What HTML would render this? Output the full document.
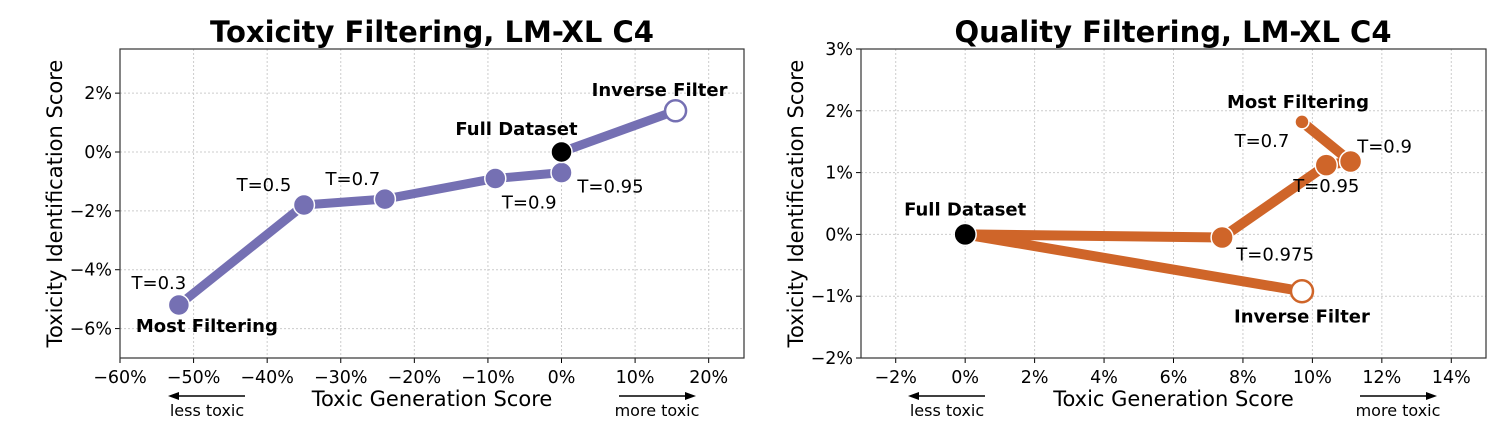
<!DOCTYPE html>
<html><head><meta charset="utf-8"><style>
body{margin:0;background:#fff}
svg{display:block;font-family:"DejaVu Sans","Liberation Sans",sans-serif}
</style></head><body>
<svg id="s" width="1512" height="442">
<text x="432" y="42" text-anchor="middle" font-size="29" font-weight="bold">Toxicity Filtering, LM-XL C4</text>
<text x="1173" y="42" text-anchor="middle" font-size="29" font-weight="bold">Quality Filtering, LM-XL C4</text>
</svg>
<script>
// Left chart data
const leftX=[-52,-35,-24,-9,0,0,15.5];
const leftY=[-5.2,-1.8,-1.6,-0.9,-0.7,0,1.4];
const leftLabels=["T=0.3","T=0.5","T=0.7","T=0.9","T=0.95","Full Dataset","Inverse Filter"];
const leftXTicks=[-60,-50,-40,-30,-20,-10,0,10,20];
const leftYTicks=[-6,-4,-2,0,2];
// Right chart data
const rightX=[9.7,11.1,10.4,7.4,0,9.7];
const rightY=[1.82,1.18,1.12,-0.05,0,-0.92];
const rightLabels=["T=0.7","T=0.9","T=0.95","T=0.975","Full Dataset","Inverse Filter"];
const rightXTicks=[-2,0,2,4,6,8,10,12,14];
const rightYTicks=[-2,-1,0,1,2,3];

const NS="http://www.w3.org/2000/svg";
const svg=document.getElementById('s');
function mk(tag,attrs,parent,txt){const e=document.createElementNS(NS,tag);for(const k in attrs)e.setAttribute(k,attrs[k]);if(txt!==undefined)e.textContent=txt;(parent||svg).appendChild(e);return e;}
function fmt(v){return (v<0?"\u2212":"")+Math.abs(v)+"%";}

function axes(c){
  const g=mk('g',{});
  
  
  c.xt.forEach(v=>{const x=c.sx(v);
    mk('line',{x1:x,x2:x,y1:c.top,y2:c.bot,stroke:'#ccc','stroke-dasharray':'2,2','stroke-width':1},g);
    mk('line',{x1:x,x2:x,y1:c.bot,y2:c.bot+5,stroke:'#000'},g);
    const t=mk('text',{x:x,y:c.bot+25,'text-anchor':'middle','font-size':17.5},g,fmt(v));
    
    
  });
  c.yt.forEach(v=>{const y=c.sy(v);
    mk('line',{x1:c.left,x2:c.right,y1:y,y2:y,stroke:'#ccc','stroke-dasharray':'2,2','stroke-width':1},g);
    mk('line',{x1:c.left-5,x2:c.left,y1:y,y2:y,stroke:'#000'},g);
    const t=mk('text',{x:c.left-8,y:y+6,'text-anchor':'end','font-size':17.5},g,fmt(v));
    
    
  });
  mk('rect',{x:c.left,y:c.top,width:c.right-c.left,height:c.bot-c.top,fill:'none',stroke:'#333','stroke-width':1.2},g);
  const xl=mk('text',{x:(c.left+c.right)/2+c.xlOff,y:406,'text-anchor':'middle','font-size':21},g,'Toxic Generation Score');
  
  
  const yl=mk('text',{x:0,y:0,'text-anchor':'middle','font-size':21,transform:`translate(${c.ylx},${(c.top+c.bot)/2}) rotate(-90)`},g,'Toxicity Identification Score');
  
  
  const ay=396;
  const a1=mk('g',{},g);
  
  
  mk('line',{x1:c.lessX+38,x2:c.lessX-30,y1:ay,y2:ay,stroke:'#000','stroke-width':1.5},a1);
  mk('polygon',{points:`${c.lessX-39},${ay} ${c.lessX-28},${ay-4} ${c.lessX-28},${ay+4}`,fill:'#000'},a1);
  mk('text',{x:c.lessX,y:416,'text-anchor':'middle','font-size':16},a1,'less toxic');
  const a2=mk('g',{},g);
  
  
  mk('line',{x1:c.moreX-38,x2:c.moreX+30,y1:ay,y2:ay,stroke:'#000','stroke-width':1.5},a2);
  mk('polygon',{points:`${c.moreX+39},${ay} ${c.moreX+28},${ay-4} ${c.moreX+28},${ay+4}`,fill:'#000'},a2);
  mk('text',{x:c.moreX,y:416,'text-anchor':'middle','font-size':16},a2,'more toxic');
}

// LEFT
const L={name:'left',left:120,right:744,top:49,bot:358,xt:leftXTicks,yt:leftYTicks,ylx:62,xlOff:0,lessX:207,moreX:657};
const lx0=-60,lx1=24.8,ly0=-7,ly1=3.5;
L.sx=v=>L.left+(v-lx0)/(lx1-lx0)*(L.right-L.left);
L.sy=v=>L.bot-(v-ly0)/(ly1-ly0)*(L.bot-L.top);
axes(L);
const lc='#7570b3';
const lp=[0,1,2,3,4,5,6].map(i=>L.sx(leftX[i])+','+L.sy(leftY[i])).join(' ');
const ll=mk('polyline',{points:lp,fill:'none',stroke:lc,'stroke-width':9,'stroke-linejoin':'round'});


const lOff=[[-20,-16],[-40,-14],[-32,-14],[34,30],[49,20],[-45,-17],[-16,-15]];
leftX.forEach((v,i)=>{
  const x=L.sx(v),y=L.sy(leftY[i]);
  const full=i==5,inv=i==6;
  const c=mk('circle',{cx:x,cy:y,r:10.5,fill:full?'#000':inv?'#fff':lc,stroke:inv?lc:'#fff','stroke-width':inv?2.5:1.5});
  
  
  const bold=i>=5;
  const t=mk('text',{x:x+lOff[i][0],y:y+lOff[i][1],'text-anchor':'middle','font-size':18,'font-weight':bold?'bold':'normal'},svg,leftLabels[i]);
  
  
});
const mf=mk('text',{x:L.sx(leftX[0])+28,y:L.sy(leftY[0])+27,'text-anchor':'middle','font-size':18,'font-weight':'bold'},svg,'Most Filtering');



// RIGHT
const R={name:'right',left:861,right:1486,top:49,bot:358,xt:rightXTicks,yt:rightYTicks,ylx:803,xlOff:0,lessX:947,moreX:1398};
const rx0=-3,rx1=15,ry0=-2,ry1=3;
R.sx=v=>R.left+(v-rx0)/(rx1-rx0)*(R.right-R.left);
R.sy=v=>R.bot-(v-ry0)/(ry1-ry0)*(R.bot-R.top);
axes(R);
const rc='#cf6529';
const rp=[0,1,2,3,4,5].map(i=>R.sx(rightX[i])+','+R.sy(rightY[i])).join(' ');
const rl=mk('polyline',{points:rp,fill:'none',stroke:rc,'stroke-width':10,'stroke-linejoin':'round'});


const rOff=[[-40,25],[34,-9],[0,27],[53,23],[0,-19],[0,31]];
rightX.forEach((v,i)=>{
  const x=R.sx(v),y=R.sy(rightY[i]);
  const full=i==4,inv=i==5;
  const c=mk('circle',{cx:x,cy:y,r:i==0?7:11,fill:full?'#000':inv?'#fff':rc,stroke:inv?rc:'#fff','stroke-width':inv?2.5:1.5});
  
  
  const bold=i>=4;
  const t=mk('text',{x:x+rOff[i][0],y:y+rOff[i][1],'text-anchor':'middle','font-size':18,'font-weight':bold?'bold':'normal'},svg,rightLabels[i]);
  
  
});
const mf2=mk('text',{x:R.sx(rightX[0])-4,y:R.sy(rightY[0])-14,'text-anchor':'middle','font-size':18,'font-weight':'bold'},svg,'Most Filtering');


</script>
</body></html>
